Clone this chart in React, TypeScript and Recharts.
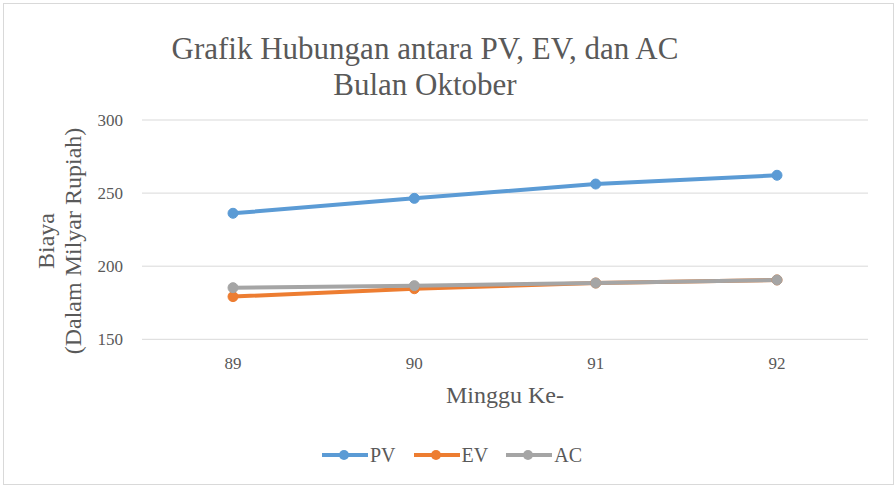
import React from "react"
import { LineChart, Line, XAxis, YAxis, CartesianGrid, Legend } from "recharts"

const weeks = ["89", "90", "91", "92"]
const pvValues = [236.2, 246.4, 256.2, 262.2]
const evValues = [179.2, 184.6, 188.5, 190.6]
const acValues = [185.3, 186.7, 188.5, 190.6]
const yTicks = [150, 200, 250, 300]

const series = [
  { key: "pv", label: "PV", color: "#5B9BD5" },
  { key: "ev", label: "EV", color: "#ED7D31" },
  { key: "ac", label: "AC", color: "#A5A5A5" },
]

const data = weeks.map((w, i) => ({
  week: w,
  pv: pvValues[i],
  ev: evValues[i],
  ac: acValues[i],
}))

const FONT = "Liberation Serif, Tinos, DejaVu Serif, Times New Roman, serif"
const INK = "#595959"

function YTitle() {
  return (
    <g>
      <text
        x={46}
        y={241}
        transform="rotate(-90 46 241)"
        textAnchor="middle"
        dominantBaseline="central"
        style={{ fontFamily: FONT }}
        fontSize={24}
        fill={INK}
      >
        Biaya
      </text>
      <text
        x={73}
        y={241}
        transform="rotate(-90 73 241)"
        textAnchor="middle"
        dominantBaseline="central"
        style={{ fontFamily: FONT }}
        fontSize={24}
        fill={INK}
      >
        (Dalam Milyar Rupiah)
      </text>
    </g>
  )
}

function LegendContent() {
  return (
    <div
      style={{
        display: "flex",
        alignItems: "center",
        height: 66,
        paddingLeft: 322,
        paddingTop: 4,
        boxSizing: "border-box",
        fontFamily: FONT,
        fontSize: 20,
        color: INK,
      }}
    >
      {series.map((s) => (
        <div key={s.key} style={{ display: "flex", alignItems: "center", marginRight: 18 }}>
          <svg width={46} height={12}>
            <line x1={0} y1={6} x2={46} y2={6} stroke={s.color} strokeWidth={4} />
            <circle cx={22} cy={6} r={5} fill={s.color} />
          </svg>
          <span style={{ marginLeft: 2 }}>{s.label}</span>
        </div>
      ))}
    </div>
  )
}

export default function App() {
  return (
    <div style={{ position: "relative", width: 895, height: 486, background: "#fff", fontFamily: FONT }}>
      <style>{`body{margin:0}`}</style>
      <div
        style={{
          position: "absolute",
          left: 3,
          top: 3,
          width: 891,
          height: 482,
          border: "1px solid #D9D9D9",
          boxSizing: "border-box",
        }}
      />
      <div
        style={{
          position: "absolute",
          left: 0,
          top: 31,
          width: 850,
          textAlign: "center",
          fontFamily: FONT,
          fontSize: 31,
          lineHeight: "36px",
          color: INK,
        }}
      >
        Grafik Hubungan antara PV, EV, dan AC
        <br />
        Bulan Oktober
      </div>
      <div style={{ position: "absolute", left: 0, top: 0 }}>
        <LineChart
          width={895}
          height={486}
          data={data}
          style={{ fontFamily: FONT }}
          margin={{ top: 120, right: 27, bottom: 0, left: 0 }}
        >
          <CartesianGrid stroke="#D9D9D9" vertical={false} />
          <XAxis
            dataKey="week"
            axisLine={false}
            tickLine={false}
            height={80.7}
            tickMargin={12}
            padding={{ left: 91, right: 91 }}
            tick={{ fontSize: 17, fill: INK }}
            label={{
              value: "Minggu Ke-",
              position: "insideBottom",
              offset: 17,
              fontSize: 24,
              fill: INK,
            }}
          />
          <YAxis
            domain={[150, 300]}
            ticks={yTicks}
            width={142}
            axisLine={false}
            tickLine={false}
            tickMargin={13}
            tick={{ fontSize: 17, fill: INK }}
            label={<YTitle />}
          />
          <Legend verticalAlign="bottom" wrapperStyle={{ left: 0, width: 895 }} content={<LegendContent />} />
          {series.map((s) => (
            <Line
              key={s.key}
              type="linear"
              dataKey={s.key}
              name={s.label}
              stroke={s.color}
              strokeWidth={4}
              dot={{ r: 5, fill: s.color, stroke: s.color, strokeWidth: 1 }}
              activeDot={false}
              isAnimationActive={false}
            />
          ))}
        </LineChart>
      </div>
    </div>
  )
}
